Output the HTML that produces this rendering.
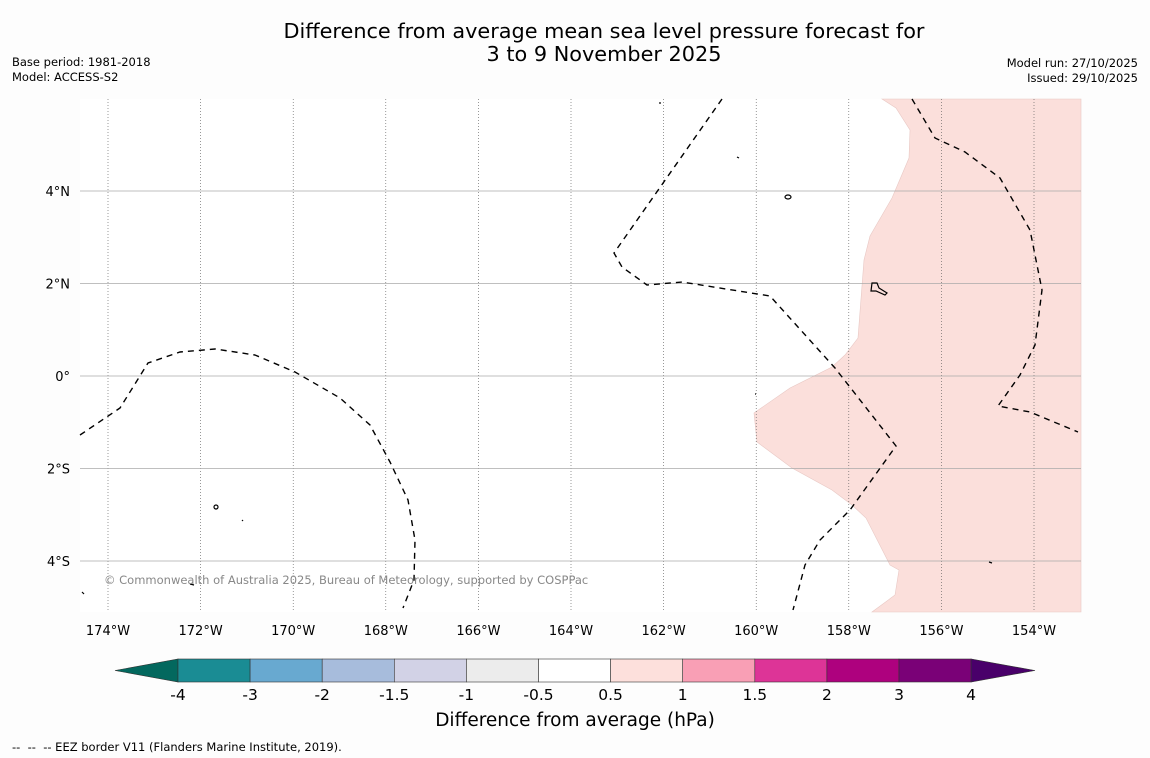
<!DOCTYPE html>
<html><head><meta charset="utf-8"><style>
body{margin:0;background:#fdfdfd;}
svg{display:block;font-family:"DejaVu Sans","Liberation Sans",sans-serif;}
</style></head><body>
<svg id="c" width="1150" height="758" viewBox="0 0 1150 758">
<rect x="0" y="0" width="1150" height="758" fill="#fdfdfd"/>
<text x="604" y="38" font-size="20.8" text-anchor="middle">Difference from average mean sea level pressure forecast for</text>
<text x="604" y="61" font-size="20.8" text-anchor="middle">3 to 9 November 2025</text>
<text x="12" y="66" font-size="11.5">Base period: 1981-2018</text>
<text x="12" y="81" font-size="11.5">Model: ACCESS-S2</text>
<text x="1138" y="67" font-size="11.5" text-anchor="end">Model run: 27/10/2025</text>
<text x="1138" y="82" font-size="11.5" text-anchor="end">Issued: 29/10/2025</text>
<g id="map">
<rect x="80" y="99" width="1001" height="513" fill="#ffffff"/>
<polygon fill="#fbdfdb" stroke="#e8c8c4" stroke-width="0.6" points="882,99 896,108 910,130 909,158 892,198 870,236 864,260 858,338 845,355 832,367 790,388 754,413 757,442 792,468 832,490 852,505 866,518 890,565 899,570 895,595 872,612 1081,612 1081,99"/>
<g id="grid"></g>
<g fill="none" stroke="#000" stroke-width="1.4" stroke-dasharray="6,5">
<polyline points="722,99 614,253 622,267 647,285 682,282 770,296 835,368 896,446 850,510 820,540 805,565 793,610"/>
<polyline points="912,99 935,138 965,152 1000,178 1030,230 1042,290 1035,345 1020,375 998,406 1030,412 1078,432"/>
<polyline points="80,435 120,408 148,363 180,352 215,349 255,355 295,372 340,398 370,425 390,462 408,500 415,540 414,580 403,608"/>
</g>
<g fill="none" stroke="#000" stroke-width="1.2">
<ellipse cx="788" cy="197" rx="3" ry="2"/>
<path d="M872,283 l5,0 l2,5 l8,5 l-2,2 l-9,-4 l-5,0 z"/>
<ellipse cx="216" cy="507" rx="2" ry="2"/>
<line x1="659" y1="103" x2="661" y2="103"/>
<line x1="737" y1="157" x2="739" y2="158"/>
<line x1="755" y1="394" x2="756" y2="394"/>
<line x1="242" y1="520" x2="243" y2="521"/>
<line x1="190" y1="584" x2="194" y2="585"/>
<line x1="82" y1="592" x2="84" y2="594"/>
<line x1="989" y1="562" x2="992" y2="563"/>
</g>
<text x="104" y="584" font-size="11.5" fill="#888">© Commonwealth of Australia 2025, Bureau of Meteorology, supported by COSPPac</text>
</g>
<g id="axes"></g>
<g id="cbar"></g>
<text x="575" y="726" font-size="18.5" text-anchor="middle">Difference from average (hPa)</text>
<text x="12" y="751" font-size="11.5" xml:space="preserve">--  --  -- EEZ border V11 (Flanders Marine Institute, 2019).</text>
</svg>
<script>
const lonTicks=[-174,-172,-170,-168,-166,-164,-162,-160,-158,-156,-154];
const latTicks=[4,2,0,-2,-4];
const cbLevels=["-4","-3","-2","-1.5","-1","-0.5","0.5","1","1.5","2","3","4"];
const cbColors=["#1a8c94","#68a9d0","#a7bcdc","#d2d2e6","#ececec","#ffffff","#fde0dc","#f99fb5","#dd3497","#ae017e","#7a0177"];
const cbUnder="#03685e", cbOver="#49006a";
const NS="http://www.w3.org/2000/svg";
const X=lon=>108+(lon+174)*46.3;
const Y=lat=>376-lat*46.25;
function mk(tag,attrs,parent,text){const e=document.createElementNS(NS,tag);for(const k in attrs)e.setAttribute(k,attrs[k]);if(text!==undefined)e.textContent=text;parent.appendChild(e);return e;}
const grid=document.getElementById('grid'),axes=document.getElementById('axes'),cb=document.getElementById('cbar');
lonTicks.forEach(l=>{
 const x=X(l);
 const ln=mk('line',{x1:x,x2:x,y1:99,y2:612,stroke:'#555','stroke-width':0.6,'stroke-dasharray':'1,2'},grid);
 
 
 const t=mk('text',{x:x,y:635,'font-size':13,'text-anchor':'middle'},axes,Math.abs(l)+'°W');
 
 
});
latTicks.forEach(l=>{
 const y=Y(l);
 const ln=mk('line',{x1:80,x2:1081,y1:y,y2:y,stroke:'#aaa','stroke-width':0.8},grid);
 
 
 const lab=l===0?'0°':Math.abs(l)+'°'+(l>0?'N':'S');
 const t=mk('text',{x:70,y:y+5,'font-size':13,'text-anchor':'end'},axes,lab);
 
 
});
const cbx0=178,cbw=72.1,cby=659,cbh=23;
const under=mk('polygon',{points:`${cbx0},${cby} ${cbx0},${cby+cbh} 115,${cby+cbh/2}`,fill:cbUnder,stroke:'#333','stroke-width':0.6},cb);


cbColors.forEach((c,i)=>{
 const r=mk('rect',{x:cbx0+i*cbw,y:cby,width:cbw,height:cbh,fill:c,stroke:'#333','stroke-width':0.6},cb);
 
 
});
const xe=cbx0+cbColors.length*cbw;
const over=mk('polygon',{points:`${xe},${cby} ${xe},${cby+cbh} 1035,${cby+cbh/2}`,fill:cbOver,stroke:'#333','stroke-width':0.6},cb);


cbLevels.forEach((v,i)=>{
 const t=mk('text',{x:cbx0+i*cbw,y:700,'font-size':15.5,'text-anchor':'middle'},cb,v);
 
 
});
</script>
</body></html>
